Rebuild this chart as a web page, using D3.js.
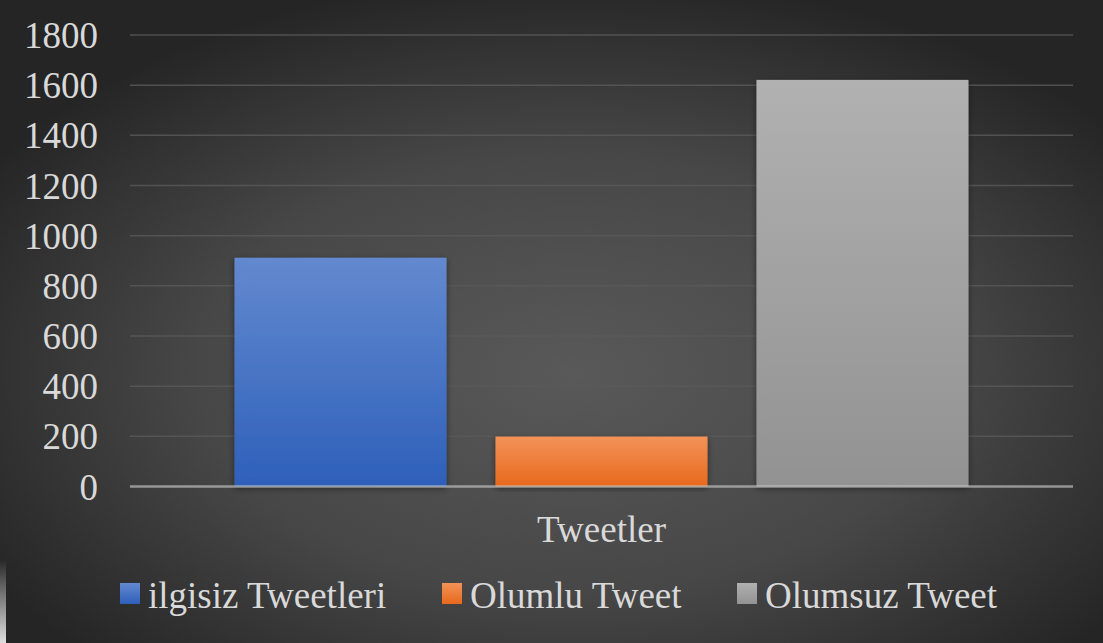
<!DOCTYPE html>
<html>
<head>
<meta charset="utf-8">
<script src="https://cdn.jsdelivr.net/npm/d3@7"></script>
<style>
  html, body { margin: 0; padding: 0; background: #ffffff; }
  svg { display: block; }
  .lbl { font-family: "Liberation Serif", "Times New Roman", "DejaVu Serif", serif; }
</style>
</head>
<body>
<svg id="chart" width="1103" height="643"></svg>
<script>
// Tweet counts by sentiment
const category = "Tweetler";
const seriesNames = ["ilgisiz Tweetleri", "Olumlu Tweet", "Olumsuz Tweet"];
const seriesValues = [912, 199, 1621];
const yTicks = [0, 200, 400, 600, 800, 1000, 1200, 1400, 1600, 1800];
const seriesColors = [
  ["#6389cf", "#2e60ba"],
  ["#f39258", "#e7691c"],
  ["#b1b1b1", "#929292"]
];

const W = 1103, H = 643;
const svg = d3.select("#chart");
const defs = svg.append("defs");

// background: soft radial vignette
const bg = defs.append("radialGradient").attr("id", "bg")
  .attr("cx", "52%").attr("cy", "58%").attr("r", "62%");
bg.append("stop").attr("offset", "0%").attr("stop-color", "#595959");
bg.append("stop").attr("offset", "55%").attr("stop-color", "#474747");
bg.append("stop").attr("offset", "100%").attr("stop-color", "#252525");

seriesColors.forEach((c, i) => {
  const g = defs.append("linearGradient").attr("id", "g" + i)
    .attr("x1", 0).attr("y1", 0).attr("x2", 0).attr("y2", 1);
  g.append("stop").attr("offset", "0%").attr("stop-color", c[0]);
  g.append("stop").attr("offset", "100%").attr("stop-color", c[1]);
});

const shadow = defs.append("filter").attr("id", "shadow")
  .attr("x", "-10%").attr("y", "-10%").attr("width", "120%").attr("height", "120%");
shadow.append("feDropShadow").attr("dx", 0).attr("dy", 2).attr("stdDeviation", 3)
  .attr("flood-color", "#000").attr("flood-opacity", 0.45);

svg.append("rect").attr("x", 0).attr("y", 0).attr("width", W).attr("height", H)
  .attr("fill", "url(#bg)");

// pale strip on the left edge
const strip = defs.append("linearGradient").attr("id", "strip")
  .attr("x1", 0).attr("y1", 0).attr("x2", 0).attr("y2", 1);
strip.append("stop").attr("offset", "0%").attr("stop-color", "#ffffff").attr("stop-opacity", 0);
strip.append("stop").attr("offset", "100%").attr("stop-color", "#f2f2f2").attr("stop-opacity", 0.9);
svg.append("rect").attr("x", 0).attr("y", 560).attr("width", 6).attr("height", H - 560)
  .attr("fill", "url(#strip)");

const plot = { left: 130, right: 1073, top: 35, bottom: 486.5 };

const y = d3.scaleLinear().domain([0, 1800]).range([plot.bottom, plot.top]);
const x0 = d3.scaleBand().domain([category]).range([plot.left, plot.right]).paddingInner(0).paddingOuter(0.1424);
const x1 = d3.scaleBand().domain(seriesNames).range([0, x0.bandwidth()]).paddingInner(0.1877).paddingOuter(0);

const textColor = "#d9d9d9";

// gridlines
svg.append("g").selectAll("line").data(yTicks.filter(t => t > 0)).join("line")
  .attr("x1", plot.left).attr("x2", plot.right)
  .attr("y1", d => y(d)).attr("y2", d => y(d))
  .attr("stroke", "#5a5a5a").attr("stroke-opacity", 0.8).attr("stroke-width", 1.5);

// y axis labels
const yAxis = d3.axisLeft(y).tickValues(yTicks).tickSize(0).tickPadding(0).tickFormat(d3.format("d"));
const yG = svg.append("g").attr("transform", `translate(98,0)`).call(yAxis);
yG.select(".domain").remove();
yG.attr("font-family", null).attr("font-size", null);
yG.selectAll("text")
  .attr("class", "lbl")
  .attr("fill", textColor)
  .style("font-size", "37px")
  .attr("dy", "0.34em");

// bars
const data = seriesNames.map((n, i) => ({ name: n, value: seriesValues[i], i }));
svg.append("g").attr("transform", `translate(${x0(category)},0)`)
  .selectAll("rect").data(data).join("rect")
  .attr("x", d => x1(d.name))
  .attr("y", d => y(d.value))
  .attr("width", x1.bandwidth())
  .attr("height", d => y(0) - y(d.value))
  .attr("fill", d => `url(#g${d.i})`)
  .attr("filter", "url(#shadow)");

// zero line
svg.append("line")
  .attr("x1", plot.left).attr("x2", plot.right)
  .attr("y1", y(0)).attr("y2", y(0))
  .attr("stroke", "#c8c8c8").attr("stroke-opacity", 0.65).attr("stroke-width", 2.5);

// category label
const xAxis = d3.axisBottom(x0).tickSize(0).tickPadding(0);
const xG = svg.append("g").attr("transform", `translate(0,${y(0)})`).call(xAxis);
xG.select(".domain").remove();
xG.attr("font-family", null).attr("font-size", null);
xG.selectAll("text")
  .attr("class", "lbl")
  .attr("fill", textColor)
  .style("font-size", "37px")
  .attr("dy", 0)
  .attr("y", 55);

// legend
const legendX = [120, 442, 737];
const legend = svg.append("g").selectAll("g").data(data).join("g")
  .attr("transform", (d, i) => `translate(${legendX[i]},583)`);
legend.append("rect")
  .attr("width", 20).attr("height", 21)
  .attr("fill", d => `url(#g${d.i})`);
legend.append("text")
  .attr("class", "lbl")
  .attr("x", 28).attr("y", 25)
  .attr("fill", textColor)
  .style("font-size", "37px")
  .text(d => d.name);
</script>
</body>
</html>
